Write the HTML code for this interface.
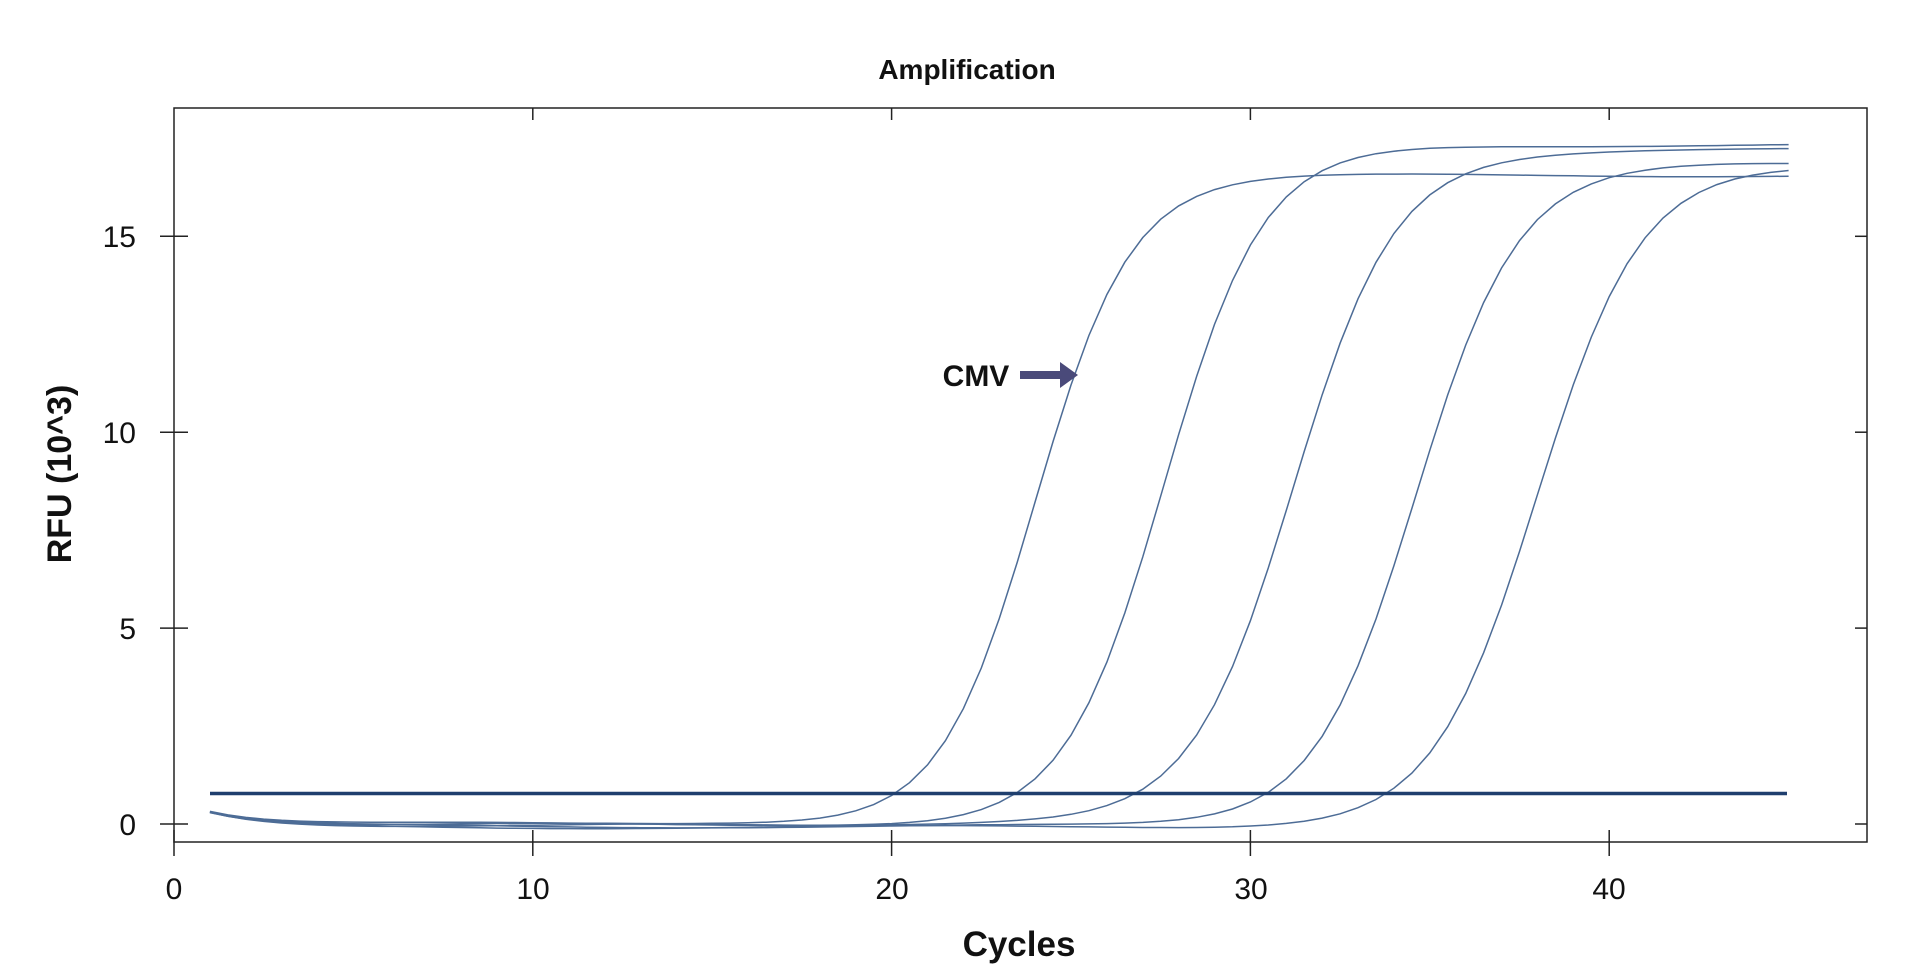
<!DOCTYPE html>
<html><head><meta charset="utf-8"><style>
html,body{margin:0;padding:0;background:#fff;}
svg{display:block;font-family:"Liberation Sans",sans-serif;}
</style></head><body>
<svg id="s" width="1920" height="978" xmlns="http://www.w3.org/2000/svg">
<rect width="1920" height="978" fill="#fff"/>
<text x="967" y="79" font-size="28" font-weight="bold" text-anchor="middle" fill="#111">Amplification</text>
<rect x="174" y="108" width="1693" height="734" fill="none" stroke="#222" stroke-width="1.5"/>
<g id="ticks" stroke="#222" stroke-width="1.5"></g>
<g font-size="30" fill="#111" text-anchor="middle">
<text x="174" y="899">0</text><text x="533" y="899">10</text><text x="892" y="899">20</text><text x="1251" y="899">30</text><text x="1609" y="899">40</text>
</g>
<g font-size="30" fill="#111" text-anchor="end">
<text x="136" y="835">0</text><text x="136" y="639">5</text><text x="136" y="443">10</text><text x="136" y="247">15</text>
</g>
<text x="1019" y="956" font-size="35" font-weight="bold" text-anchor="middle" fill="#111">Cycles</text>
<text transform="translate(71,474) rotate(-90)" font-size="34" font-weight="bold" text-anchor="middle" fill="#111">RFU (10^3)</text>
<g id="curves" fill="none" stroke="#4d6c96" stroke-width="1.5"></g>
<line x1="210" y1="793.5" x2="1787" y2="793.5" stroke="#1f3f6e" stroke-width="3.5"/>
<text x="976" y="386" font-size="30" font-weight="bold" text-anchor="middle" fill="#111">CMV</text>
<polygon points="1020,371 1060,371 1060,362 1078,375 1060,388 1060,379 1020,379" fill="#4a4a7a"/>
</svg>
<script>
var X=function(c){return 174+c*35.88;},Y=function(v){return 824-v*39.18;};
var t=document.getElementById('ticks'),h='';
[0,10,20,30,40].forEach(function(c){var x=X(c);h+='<line x1="'+x+'" y1="830" x2="'+x+'" y2="856"/>';if(c>0)h+='<line x1="'+x+'" y1="108" x2="'+x+'" y2="120"/>';});
[0,5,10,15].forEach(function(v){var y=Y(v);h+='<line x1="160" y1="'+y+'" x2="188" y2="'+y+'"/><line x1="1855" y1="'+y+'" x2="1867" y2="'+y+'"/>';});
t.innerHTML=h;
var P=[[24,16.6,1.33,-0.04],[27.6,17.35,1.38,-0.02],[31.2,17.2,1.42,0],[34.6,16.9,1.42,-0.06],[38,16.9,1.45,-0.08]];
var g='';
P.forEach(function(p,i){var pts=[];for(var c=1;c<=45;c+=0.5){var v=p[1]/(1+Math.exp(-(c-p[0])/p[2]))+0.35*Math.exp(-(c-1)/1.6)+p[3]-0.04*Math.sin(c/3+i);pts.push(X(c).toFixed(1)+','+Y(v).toFixed(1));}
g+='<polyline points="'+pts.join(' ')+'"/>';});
document.getElementById('curves').innerHTML=g;
</script>
</body></html>
